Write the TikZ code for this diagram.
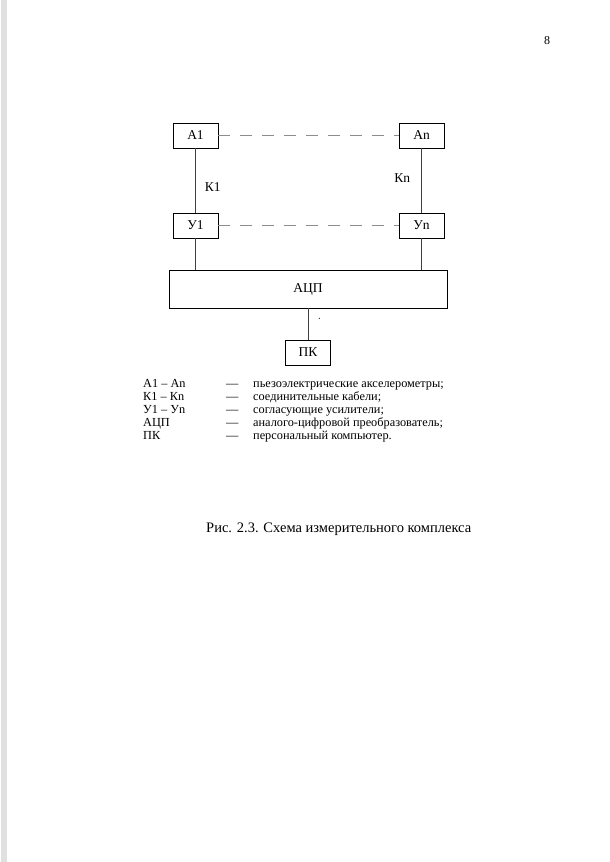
\documentclass[tikz,border=0pt]{standalone}
\usepackage{fontspec}
\setmainfont{Liberation Serif}
\begin{document}
\begin{tikzpicture}[x=1pt,y=-1pt,
  blk/.style={draw, line width=0.6pt, inner sep=0pt, font=\fontsize{13.5}{15}\selectfont},
  wire/.style={line width=0.6pt, draw=black!75},
  dsh/.style={line width=0.6pt, draw=black!45, dash pattern=on 12pt off 10pt},
  lbl/.style={font=\fontsize{13.5}{15}\selectfont, text=black, inner sep=0pt},
  lg/.style={anchor=west, inner sep=0pt, text height=8pt, text depth=2pt, font=\fontsize{12.3}{13}\selectfont}]
\useasboundingbox[fill=white] (0,0) rectangle (610,862);
\fill[black!12] (1,0) rectangle (7,862);
% blocks
\node[blk, minimum width=45pt, minimum height=25pt] (a1) at (195.5,135.5) {А1};
\node[blk, minimum width=45pt, minimum height=25pt] (an) at (421.5,135.5) {Аn};
\node[blk, minimum width=45pt, minimum height=25pt] (u1) at (195.5,225.5) {У1};
\node[blk, minimum width=45pt, minimum height=25pt] (un) at (421.5,225.5) {Уn};
\node[blk, minimum width=278pt, minimum height=38pt] (adc) at (308,289) {АЦП};
\node[blk, minimum width=45pt, minimum height=25pt] (pk) at (308,352.5) {ПК};
% connectors
\draw[dsh] (a1.east) -- (an.west);
\draw[dsh] (u1.east) -- (un.west);
\draw[wire] (a1.south) -- node[pos=0.6, right=9pt, lbl] (k1) {К1} (u1.north);
\draw[wire] (an.south) -- node[pos=0.47, left=11pt, lbl] (kn) {Кn} (un.north);
\draw[wire] (u1.south) -- (u1.south |- adc.north);
\draw[wire] (un.south) -- (un.south |- adc.north);
\draw[wire] (adc.south) -- (pk.north);
\fill (319.3,318.3) circle (0.6pt);
% legend
\node[lg] (l1a) at (143,384) {А1 – Аn};
\node[lg] (l2a) at (143,397) {К1 – Кn};
\node[lg] (l3a) at (143,410) {У1 – Уn};
\node[lg] (l4a) at (143,423) {АЦП};
\node[lg] (l5a) at (143,436) {ПК};
\node[lg] (l1b) at (226,384) {—};
\node[lg] (l2b) at (226,397) {—};
\node[lg] (l3b) at (226,410) {—};
\node[lg] (l4b) at (226,423) {—};
\node[lg] (l5b) at (226,436) {—};
\node[lg] (l1c) at (253,384) {пьезоэлектрические акселерометры;};
\node[lg] (l2c) at (253,397) {соединительные кабели;};
\node[lg] (l3c) at (253,410) {согласующие усилители;};
\node[lg] (l4c) at (253,423) {аналого-цифровой преобразователь;};
\node[lg] (l5c) at (253,436) {персональный компьютер.};
% caption and page number
\node[anchor=west, inner sep=0pt, font=\fontsize{14.5}{16}\selectfont] (cap) at (206,529) {Рис. 2.3. Схема измерительного комплекса};
\node[inner sep=0pt, font=\fontsize{12}{13}\selectfont] (pg) at (547,41) {8};
\end{tikzpicture}
\end{document}
